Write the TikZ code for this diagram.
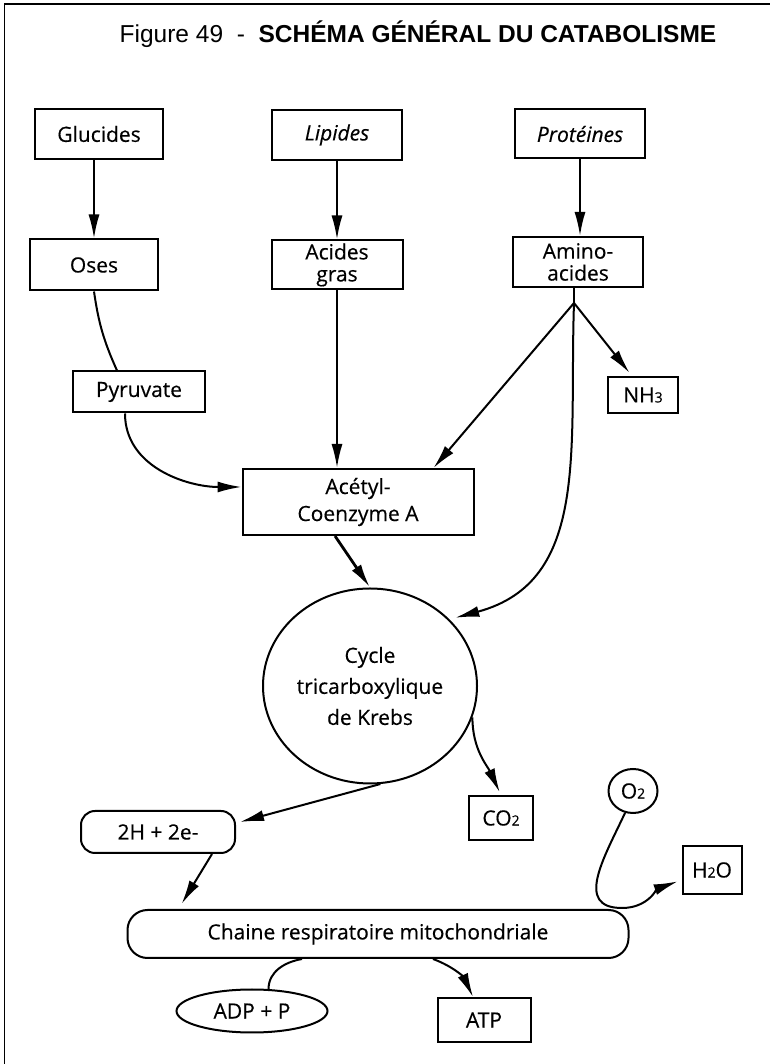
\documentclass[tikz,border=0pt]{standalone}
\usepackage{fontspec}
\setmainfont{Open Sans}[FakeBold=0.4]
\newfontfamily\titlefont{Liberation Sans}
\usetikzlibrary{arrows.meta,calc,shapes.geometric}

\tikzset{
  box/.style={draw, line width=2pt, rectangle, inner sep=0pt, align=center,
    font=\fontsize{21pt}{22pt}\selectfont},
  oval/.style={draw, line width=2pt, ellipse, inner sep=0pt, align=center,
    font=\fontsize{21pt}{22pt}\selectfont},
  flow/.style={line width=2pt, -{Latex[length=24pt,width=11pt]}},
  link/.style={line width=2pt},
}
\newcommand\chemsub[1]{{\fontsize{14pt}{14pt}\selectfont #1}}

\begin{document}
\begin{tikzpicture}[x=1pt,y=1pt]
  \useasboundingbox (0,0) rectangle (770,1064);
  % frame and title
  \draw[line width=1.4pt] (4.5,0) -- (4.5,1060) -- (770,1060);
  \node[font=\titlefont\fontsize{24.5pt}{26pt}\selectfont] (title) at (418,1030)
    {Figure 49\ \ -\ \ \textbf{SCHÉMA GÉNÉRAL DU CATABOLISME}};
  % the three sources and what they give
  \node[box, minimum width=128pt, minimum height=50pt] (glu) at (99,930) {Glucides};
  \node[box, minimum width=130pt, minimum height=50pt] (lip) at (337,929) {\itshape Lipides};
  \node[box, minimum width=130pt, minimum height=49pt] (pro) at (580,930) {\itshape Protéines};
  \node[box, minimum width=128pt, minimum height=51pt] (oses) at (94,799) {Oses};
  \node[box, minimum width=131pt, minimum height=49pt] (acg) at (337,799) {Acides\\gras};
  \node[box, minimum width=130pt, minimum height=50pt] (amino) at (578,802) {Amino-\\acides};
  \node[box, minimum width=132pt, minimum height=41pt] (pyr) at (139,672) {Pyruvate};
  \node[box, minimum width=70pt, minimum height=36pt] (nh3) at (643,669) {NH\chemsub{3}};
  % the crossroad and the cycle
  \node[box, minimum width=231pt, minimum height=66pt,
    font=\fontsize{21pt}{27pt}\selectfont] (acetyl) at (358,562) {Acétyl-\\Coenzyme A};
  \node[oval, minimum width=214pt, minimum height=195pt,
    font=\fontsize{21pt}{31pt}\selectfont] (krebs) at (370,378)
    {Cycle\\tricarboxylique\\de Krebs};
  \node[box, minimum width=64pt, minimum height=44pt] (co2) at (501,246) {CO\chemsub{2}};
  % respiratory chain
  \node[box, rounded corners=14pt, minimum width=154pt, minimum height=42pt] (hh) at (158,232) {2H + 2e-};
  \node[box, rounded corners=20pt, minimum width=501pt, minimum height=48pt,
    font=\fontsize{21pt}{22pt}\selectfont] (chaine) at (378,130) {Chaine respiratoire mitochondriale};
  \node[oval, minimum width=49pt, minimum height=44pt] (o2) at (633,273) {O\chemsub{2}};
  \node[box, minimum width=59pt, minimum height=48pt] (h2o) at (712,194) {H\chemsub{2}O};
  \node[box, minimum width=93pt, minimum height=44pt] (atp) at (484,44) {ATP};
  \node[oval, minimum width=151pt, minimum height=43pt] (adp) at (252,53) {ADP + P};
  % down from the sources
  \draw[flow] (oses.north |- glu.south) -- (oses.north);
  \draw[flow] (lip.south) -- (lip.south |- acg.north);
  \draw[flow] (pro.south) -- (pro.south |- amino.north);
  \draw[link] (oses.south) to[bend right=8] ($(pyr.north)+(-22,0)$);
  \draw[flow] ($(pyr.south)+(-14,0)$) to[out=-90,in=180] ($(acetyl.west)+(0,15)$);
  \draw[flow] (acg.south) -- (acg.south |- acetyl.north);
  % amino acids split three ways
  \coordinate (split) at ($(amino.south)+(-4,-15)$);
  \draw[link] (split |- amino.south) -- (split);
  \draw[flow] (split) -- ($(acetyl.north east)+(-41,0)$);
  \draw[flow, shorten >=4pt] (split) -- ($(nh3.north)+(-11,0)$);
  \draw[flow, shorten >=6pt] (split) to[out=-92,in=15,looseness=1.1] (krebs.40);
  % into and out of the cycle
  \draw[flow, line width=2.8pt] ($(acetyl.south)+(-23,0)$) -- (krebs.north);
  \draw[flow, shorten >=3pt] (krebs.-17) to[out=-90,in=115] (co2.north);
  \draw[flow] (krebs.-84) -- ($(hh.east)+(4,10)$);
  \draw[flow, shorten >=6pt] ($(hh.south)+(54,0)$) -- ($(chaine.north west)+(52,0)$);
  % oxygen, water, ATP
  \coordinate (o2turn) at (622,156);
  \draw[flow, shorten >=4pt] (o2.250) to[out=-115,in=180,looseness=1.3] (o2turn)
    to[out=0,in=200] ($(h2o.west)+(0,-10)$);
  \draw[flow] ($(chaine.south)+(55,0)$) to[out=-20,in=115] ($(atp.north)+(-11,0)$);
  \draw[link] (adp.53) to[out=90,in=190] ($(chaine.south)+(-76,0)$);
\end{tikzpicture}
\end{document}
